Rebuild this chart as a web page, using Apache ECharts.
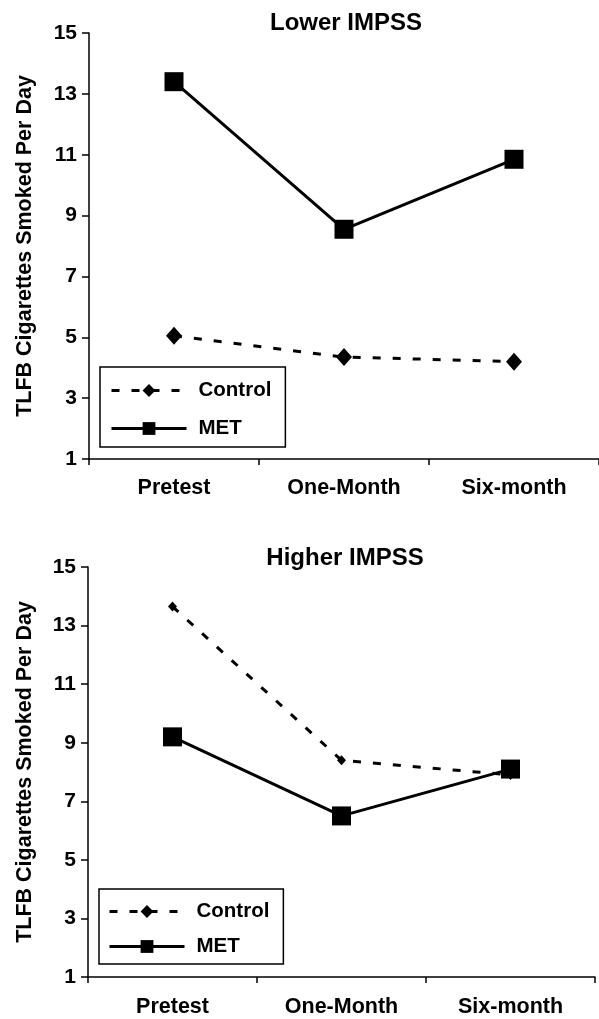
<!DOCTYPE html>
<html>
<head>
<meta charset="utf-8">
<script src="https://cdn.jsdelivr.net/npm/echarts@6/dist/echarts.min.js"></script>
<style>
html,body{margin:0;padding:0;background:#fff;}
#c{width:599px;height:1019px;}
</style>
</head>
<body>
<div id="c"></div>
<script>
var categories = ['Pretest', 'One-Month', 'Six-month'];
var yTicks = [1, 3, 5, 7, 9, 11, 13, 15];
var lowerControl = [5.05, 4.35, 4.2];
var lowerMET = [13.4, 8.55, 10.85];
var higherControl = [13.65, 8.4, 7.9];
var higherMET = [9.2, 6.5, 8.1];
var titles = ['Lower IMPSS', 'Higher IMPSS'];
var yName = 'TLFB Cigarettes Smoked Per Day';

var FONT = '"Liberation Sans", Arial, sans-serif';
var chart = echarts.init(document.getElementById('c'), null, {renderer: 'canvas'});

function yAxis(gi, gap) {
  return {
    type: 'value', gridIndex: gi,
    min: yTicks[0], max: yTicks[yTicks.length - 1], interval: 2,
    name: yName, nameLocation: 'middle', nameGap: gap, nameRotate: 90,
    nameTextStyle: {fontFamily: FONT, fontWeight: 'bold', fontSize: 21.5, color: '#000'},
    axisLine: {show: true, lineStyle: {color: '#000', width: 1.5}},
    axisTick: {show: true, length: 7, lineStyle: {color: '#000', width: 1.5}},
    axisLabel: {margin: 12, fontFamily: FONT, fontWeight: 'bold', fontSize: 21, color: '#000'},
    splitLine: {show: false}
  };
}
function xAxis(gi, margin) {
  return {
    type: 'category', gridIndex: gi, data: categories, boundaryGap: true,
    axisLine: {show: true, onZero: false, lineStyle: {color: '#000', width: 1.5}},
    axisTick: {show: true, length: 6, alignWithLabel: false, lineStyle: {color: '#000', width: 1.5}},
    axisLabel: {margin: margin, fontFamily: FONT, fontWeight: 'bold', fontSize: 21.5, color: '#000'},
    splitLine: {show: false}
  };
}
function ctrl(gi, data, sz) {
  return {
    name: 'Control', type: 'line', xAxisIndex: gi, yAxisIndex: gi, data: data,
    symbol: 'diamond', symbolSize: sz, showAllSymbol: true,
    lineStyle: {color: '#000', width: 3, type: [8, 12]},
    itemStyle: {color: '#000'}, z: 2, animation: false
  };
}
function met(gi, data) {
  return {
    name: 'MET', type: 'line', xAxisIndex: gi, yAxisIndex: gi, data: data,
    symbol: 'rect', symbolSize: 19, showAllSymbol: true,
    lineStyle: {color: '#000', width: 3, type: 'solid'},
    itemStyle: {color: '#000'}, z: 3, animation: false
  };
}
function legend(left, top, pad, gap) {
  return {
    orient: 'vertical', left: left, top: top, padding: pad,
    itemWidth: 75, itemHeight: 16, itemGap: gap,
    borderColor: '#000', borderWidth: 1.5, borderRadius: 0,
    data: ['Control', 'MET'],
    lineStyle: {width: 3},
    textStyle: {fontFamily: FONT, fontWeight: 'bold', fontSize: 20.5, color: '#000', lineHeight: 20, padding: [0, 0, 0, 7]},
    selectedMode: false
  };
}

chart.setOption({
  animation: false,
  backgroundColor: '#fff',
  title: [
    {text: titles[0], left: 341, top: 6, textAlign: 'center',
     textStyle: {fontFamily: FONT, fontWeight: 'bold', fontSize: 24, color: '#000'}},
    {text: titles[1], left: 340, top: 541, textAlign: 'center',
     textStyle: {fontFamily: FONT, fontWeight: 'bold', fontSize: 24, color: '#000'}}
  ],
  grid: [
    {left: 89, right: -7, top: 33, height: 426, containLabel: false},
    {left: 88, right: 4, top: 567, height: 410, containLabel: false}
  ],
  legend: [
    legend(100, 367, [13, 14, 8, 10], 17),
    legend(99, 889, [12, 14, 7, 9], 14)
  ],
  xAxis: [xAxis(0, 18), xAxis(1, 19)],
  yAxis: [yAxis(0, 53), yAxis(1, 52)],
  series: [
    ctrl(0, lowerControl, [16, 18]),
    met(0, lowerMET),
    ctrl(1, higherControl, [9, 10]),
    met(1, higherMET)
  ]
});
</script>
</body>
</html>
